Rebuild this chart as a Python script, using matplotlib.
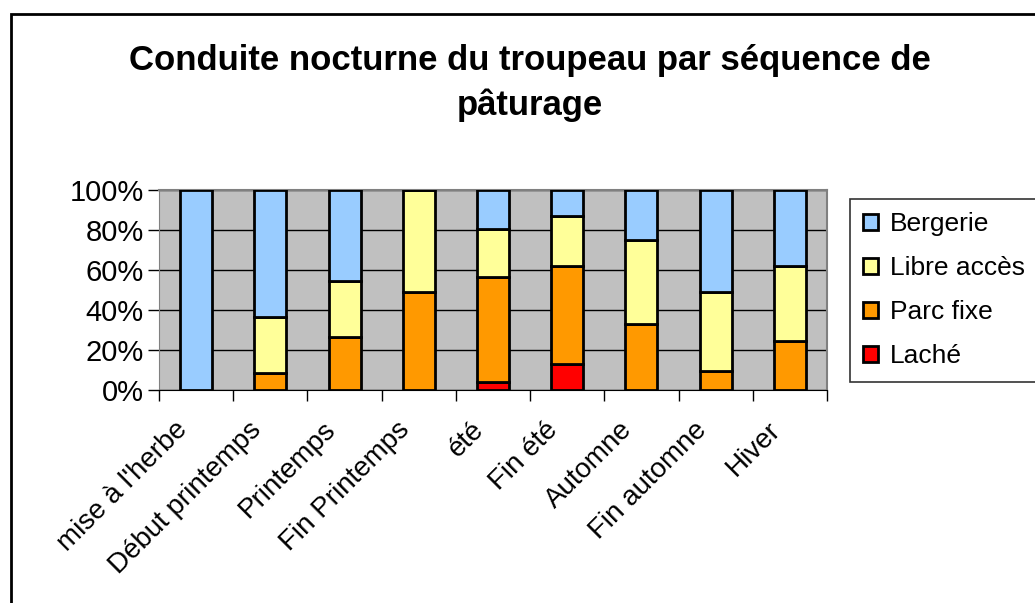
import numpy as np
import matplotlib.pyplot as plt
from matplotlib.patches import Rectangle
from matplotlib.ticker import PercentFormatter
from matplotlib.transforms import ScaledTranslation

plt.rcParams['font.family'] = ['Liberation Sans', 'DejaVu Sans']

categories = ["mise à l'herbe", 'Début printemps', 'Printemps', 'Fin Printemps',
              'été', 'Fin été', 'Automne', 'Fin automne', 'Hiver']
lache = [0, 0, 0, 0, 4.2, 12.8, 0, 0, 0]
parc_fixe = [0, 8.7, 26.7, 49.2, 52.5, 49.4, 33.0, 9.5, 24.5]
libre_acces = [0, 27.9, 28.0, 50.8, 23.6, 24.8, 42.0, 39.7, 37.7]
bergerie = [100, 63.4, 45.3, 0, 19.7, 13.0, 25.0, 50.8, 37.8]

series = [('Laché', lache, '#FF0000'),
          ('Parc fixe', parc_fixe, '#FF9900'),
          ('Libre accès', libre_acces, '#FFFF99'),
          ('Bergerie', bergerie, '#99CCFF')]

fig = plt.figure(figsize=(10.35, 6.03), dpi=100)
# outer chart border
fig.patches.append(Rectangle((11 / 1035, -0.05), 1.1, 1 - 14 / 603 + 0.05,
                             transform=fig.transFigure, fill=False,
                             edgecolor='black', linewidth=2))

ax = fig.add_axes([159 / 1035, 1 - 390 / 603, 668 / 1035, 200 / 603])
ax.set_facecolor('#C0C0C0')

x = np.arange(len(categories))
bottom = np.zeros(len(categories))
handles = {}
for name, vals, color in series:
    vals = np.array(vals)
    b = ax.bar(x, vals, bottom=bottom, width=0.43, color=color,
               edgecolor='black', linewidth=2, label=name, zorder=3)
    handles[name] = b
    bottom += vals

ax.set_xlim(-0.5, len(categories) - 0.5)
ax.set_ylim(0, 100)
ax.set_yticks(np.arange(0, 101, 20))
ax.yaxis.set_major_formatter(PercentFormatter(decimals=0))
ax.grid(axis='y', color='black', linewidth=1, zorder=1)

# ticks between categories, labels drawn by hand (rotated, nudged left)
ax.set_xticks(np.arange(-0.5, len(categories), 1))
ax.set_xticklabels([])
lbl_tr = ax.get_xaxis_transform() + ScaledTranslation(-0.13, -0.36, fig.dpi_scale_trans)
for xi, cat in zip(x, categories):
    ax.text(xi, 0, cat, transform=lbl_tr, rotation=45, ha='right', va='center',
            rotation_mode='anchor', fontsize=20)
ax.tick_params(axis='x', length=8, width=1, direction='out')
ax.tick_params(axis='y', length=8, width=1, direction='out', labelsize=21, pad=3)

for side in ['top', 'right']:
    ax.spines[side].set_color('#808080')
    ax.spines[side].set_linewidth(1.5)
ax.spines['left'].set_color('#808080')
ax.spines['bottom'].set_color('black')

order = ['Bergerie', 'Libre accès', 'Parc fixe', 'Laché']
leg = fig.legend([handles[n] for n in order], order, loc='upper left',
                 bbox_to_anchor=(850 / 1035, 1 - 199 / 603), fontsize=19,
                 frameon=True, fancybox=False, edgecolor='black',
                 handlelength=0.55, handleheight=0.55, handletextpad=0.45,
                 labelspacing=0.76, borderpad=0.5, borderaxespad=0)
leg.get_frame().set_linewidth(1.2)

fig.text(530 / 1035, 1 - 83 / 603,
         'Conduite nocturne du troupeau par séquence de\npâturage',
         ha='center', va='center', fontsize=25, fontweight='bold',
         linespacing=1.4)

fig.savefig('out.png', dpi=100)
